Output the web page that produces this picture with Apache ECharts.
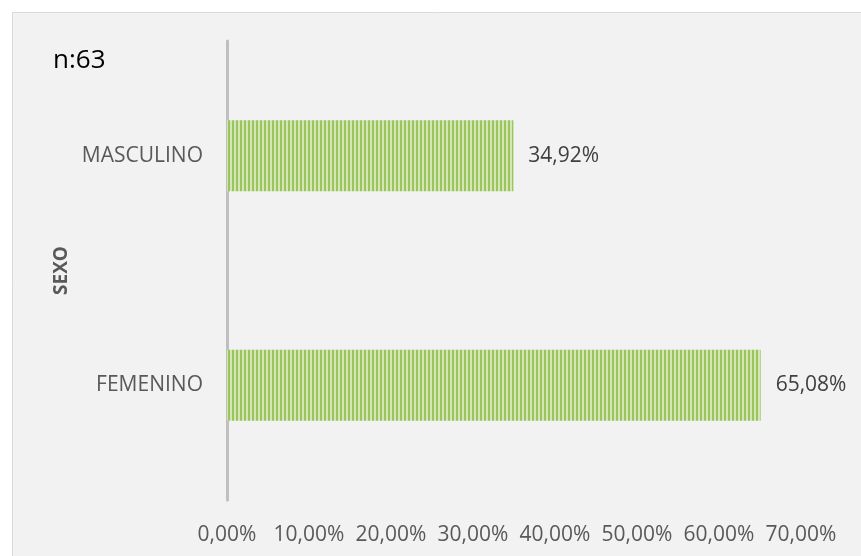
<!DOCTYPE html>
<html>
<head>
<meta charset="utf-8">
<script src="https://cdn.jsdelivr.net/npm/echarts@6/dist/echarts.min.js"></script>
<style>
html,body{margin:0;padding:0;background:#ffffff;}
#chart{width:861px;height:556px;}
</style>
</head>
<body>
<div id="chart"></div>
<script>
const categories = ['FEMENINO', 'MASCULINO'];
const values = [65.08, 34.92];
const axisTicks = [0, 10, 20, 30, 40, 50, 60, 70];
const sampleSize = 'n:63';
const axisTitle = 'SEXO';

function fmt(v) { return v.toFixed(2).replace('.', ',') + '%'; }

// stripe pattern
const pc = document.createElement('canvas');
pc.width = 4; pc.height = 4;
const ctx = pc.getContext('2d');
ctx.fillStyle = '#d3e6b6'; ctx.fillRect(0, 0, 4, 4);
ctx.fillStyle = '#9cc45d'; ctx.fillRect(0, 0, 2, 4);

const chart = echarts.init(document.getElementById('chart'));
const font = '"Open Sans", sans-serif';
chart.setOption({
  animation: false,
  textStyle: { fontFamily: font },
  graphic: [
    { type: 'rect', z: -10, shape: { x: 12.5, y: 12.5, width: 900, height: 600 },
      style: { fill: '#f2f2f2', stroke: '#d9d9d9', lineWidth: 1 } },
    { type: 'text', x: 53, y: 61, style: { text: sampleSize, font: '26px ' + font, fill: '#000000', verticalAlign: 'middle' } }
  ],
  grid: { left: 227, right: 60, top: 41, bottom: 56 },
  xAxis: {
    type: 'value', min: axisTicks[0], max: axisTicks[axisTicks.length - 1], interval: 10,
    axisLine: { show: false }, axisTick: { show: false }, splitLine: { show: false },
    axisLabel: { formatter: fmt, color: '#595959', fontSize: 21, margin: 25, fontFamily: font }
  },
  yAxis: {
    type: 'category', data: categories,
    name: axisTitle, nameLocation: 'middle', nameGap: 155, nameRotate: 90,
    nameTextStyle: { fontWeight: 'bold', fontSize: 19, color: '#595959', fontFamily: font },
    axisLine: { show: true, lineStyle: { color: '#bfbfbf', width: 3 } },
    axisTick: { show: false },
    axisLabel: { color: '#595959', fontSize: 21, margin: 24, fontFamily: font }
  },
  series: [{
    type: 'bar', data: values, barWidth: 71,
    itemStyle: { color: { image: pc, repeat: 'repeat' } },
    label: { show: true, position: 'right', distance: 15, formatter: p => fmt(p.value), color: '#404040', fontSize: 21, fontFamily: font }
  }]
});
</script>
</body>
</html>
